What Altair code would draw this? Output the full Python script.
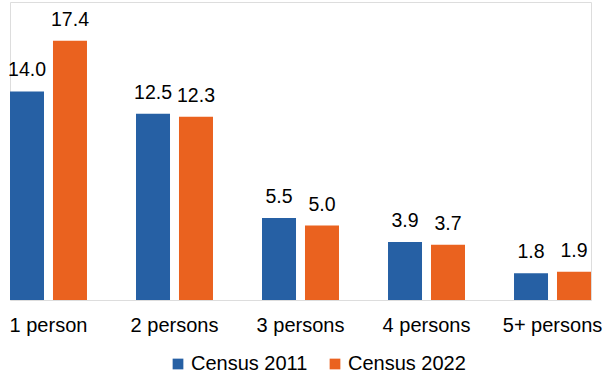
import altair as alt
import pandas as pd

categories = ["1 person", "2 persons", "3 persons", "4 persons", "5+ persons"]
series = ["Census 2011", "Census 2022"]
census_2011 = [14.0, 12.5, 5.5, 3.9, 1.8]
census_2022 = [17.4, 12.3, 5.0, 3.7, 1.9]
colors = ["#2660A4", "#EA621F"]

rows = []
for c, a, b in zip(categories, census_2011, census_2022):
    rows.append({"cat": c, "series": series[0], "value": a})
    rows.append({"cat": c, "series": series[1], "value": b})
df = pd.DataFrame(rows)

FONT = "Liberation Sans"

x = alt.X("cat:N", sort=categories, title=None,
          scale=alt.Scale(paddingInner=0.389, paddingOuter=0),
          axis=alt.Axis(labelAngle=0, domain=False, ticks=False, labelFont=FONT,
                        labelFontSize=20, labelColor="#000000", labelPadding=15))
xo = alt.XOffset("series:N", sort=series,
                 scale=alt.Scale(paddingInner=0.209, paddingOuter=0))
y = alt.Y("value:Q", scale=alt.Scale(domain=[0, 20]), axis=None)

bars = alt.Chart(df).mark_bar().encode(
    x=x, xOffset=xo, y=y,
    color=alt.Color("series:N", sort=series,
                    scale=alt.Scale(domain=series, range=colors),
                    legend=alt.Legend(title=None, orient="none", legendX=158, legendY=352,
                                      direction="horizontal", symbolType="square",
                                      symbolSize=115, symbolStrokeWidth=0,
                                      labelFont=FONT, labelFontSize=20,
                                      labelColor="#000000", columnPadding=17,
                                      symbolOffset=0, labelOffset=3, padding=0))
)

labels = alt.Chart(df).mark_text(baseline="alphabetic", dy=-15, font=FONT, fontSize=19.5,
                                 color="#000000").encode(
    x=x, xOffset=xo, y=y, text=alt.Text("value:Q", format=".1f")
)

chart = (bars + labels).properties(
    width=581, height=298,
    autosize=alt.AutoSizeParams(type="none"),
    padding={"left": 10, "top": 2, "right": 13, "bottom": 76},
).configure_view(stroke=None).configure(background="white")

chart.save("out.html", embed_options={"renderer": "svg", "actions": False})
